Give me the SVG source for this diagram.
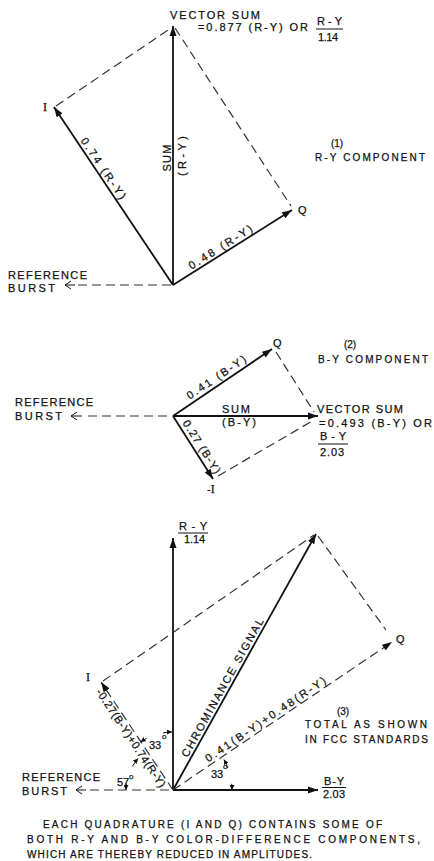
<svg xmlns="http://www.w3.org/2000/svg" width="434" height="861" viewBox="0 0 434 861">
<style>
text{font-family:"Liberation Sans",Arial,sans-serif;fill:#111;font-size:11px;stroke:#111;stroke-width:0.25}
.s{stroke:#111;stroke-width:1.8;fill:none}
.d{stroke:#333;stroke-width:1.2;fill:none;stroke-dasharray:9 5}
.a{marker-end:url(#ah)}
.t{stroke:#111;stroke-width:1;fill:none}
.k{stroke:#111;stroke-width:1;fill:none;marker-end:url(#sa)}
.sm{font-size:10px}
.rf{font-size:11px}
.sup{font-size:8px}
.ser{font-family:"Liberation Serif","Times New Roman",serif;font-size:12px}
</style>
<defs>
<marker id="ah" markerUnits="userSpaceOnUse" markerWidth="11" markerHeight="8" refX="10" refY="4" orient="auto"><path d="M0,0.5 L10,4 L0,7.5 z" fill="#111"/></marker>
<marker id="sa" markerUnits="userSpaceOnUse" markerWidth="6" markerHeight="5" refX="5" refY="2.5" orient="auto"><path d="M0,0 L5,2.5 L0,5 z" fill="#111"/></marker>
</defs>
<rect width="434" height="861" fill="#fff"/>

<g id="connectors">
<!-- diagram 1 -->
<line class="s a" x1="173" y1="285" x2="173" y2="26"/>
<line class="s a" x1="173" y1="285" x2="54" y2="107"/>
<line class="s a" x1="173" y1="285" x2="292" y2="210"/>
<path class="d" d="M56,106 L171,28"/>
<path class="d" d="M175,28 L291,206"/>
<path class="d" d="M78,285 H172"/>
<path class="t" d="M71,281 L65,285 L71,289 M65,285 H75"/>
<!-- diagram 2 -->
<line class="s a" x1="173" y1="416" x2="318" y2="416"/>
<line class="s a" x1="173" y1="416" x2="272" y2="349"/>
<line class="s a" x1="173" y1="416" x2="213" y2="479"/>
<path class="d" d="M276,352 L314,412"/>
<path class="d" d="M218,476 L314,420"/>
<path class="d" d="M88,416 H172"/>
<path class="t" d="M77,412 L71,416 L77,420 M71,416 H82"/>
<!-- diagram 3 -->
<line class="s a" x1="173" y1="790" x2="173" y2="538"/>
<line class="s a" x1="173" y1="790" x2="318" y2="790"/>
<line class="s a" x1="173" y1="790" x2="316" y2="534"/>
<line class="d a" x1="173" y1="790" x2="392" y2="642"/>
<line class="d a" x1="173" y1="790" x2="101" y2="682"/>
<path class="d" d="M103,681 L314,535"/>
<path class="d" d="M318,536 L386,630"/>
<path class="d" d="M90,790 H172"/>
<path class="t" d="M82,786 L76,790 L82,794 M76,790 H86"/>
<!-- angle arcs -->
<path class="k" d="M227.8,768 A59,59 0 0 0 223.9,759.6"/>
<path class="k" d="M231.7,783.8 A59,59 0 0 1 232,790"/>
<path class="k" d="M146.7,738.3 A58,58 0 0 0 140.6,741.9"/>
<path class="k" d="M162.9,732.9 A58,58 0 0 1 172,732"/>
<path class="k" d="M132.3,766.5 A47,47 0 0 1 138.1,758.6"/>
<path class="k" d="M126.5,783.5 A47,47 0 0 0 126,790"/>
</g>

<!-- diagram 1 nodes -->
<g id="d1-vector-sum">
<text x="170" y="19" textLength="90">VECTOR SUM</text>
<text x="198" y="31" textLength="110">=0.877 (R-Y) OR</text>
<text x="317" y="25" textLength="25">R-Y</text>
<line class="t" x1="316" y1="29" x2="343" y2="29"/>
<text x="318" y="41" textLength="20">1.14</text>
</g>
<g id="d1-I"><text class="ser" x="43" y="111">I</text></g>
<g id="d1-Q"><text x="298" y="214" font-size="12">Q</text></g>
<g id="d1-title"><text class="sm" x="337" y="147" text-anchor="middle">(1)</text><text class="sm" x="315" y="161" textLength="110">R-Y COMPONENT</text></g>
<g id="d1-ref"><text class="rf" x="8" y="279" textLength="79">REFERENCE</text><text class="rf" x="8" y="292" textLength="47">BURST</text></g>
<g id="d1-sum"><text transform="translate(171,158) rotate(-90)" text-anchor="middle" textLength="27">SUM</text><text transform="translate(186,156) rotate(-90)" text-anchor="middle" textLength="40">(R-Y)</text></g>
<g id="d1-i-label" transform="translate(97.8,172.2) rotate(56.1)"><text x="0" y="-3" text-anchor="middle" textLength="72">0.74 (R-Y)</text></g>
<g id="d1-q-label" transform="translate(224,252.9) rotate(-32.2)"><text x="0" y="-3" text-anchor="middle" textLength="73">0.48 (R-Y)</text></g>

<!-- diagram 2 nodes -->
<g id="d2-Q"><text x="273" y="347" font-size="12">Q</text></g>
<g id="d2-title"><text class="sm" x="350" y="348" text-anchor="middle">(2)</text><text class="sm" x="318" y="363" textLength="110">B-Y COMPONENT</text></g>
<g id="d2-sum"><text x="222" y="413" textLength="28">SUM</text><text x="222" y="426" textLength="34">(B-Y)</text></g>
<g id="d2-vector-sum">
<text x="317" y="413" textLength="86">VECTOR SUM</text>
<text x="319" y="427" textLength="113">=0.493 (B-Y) OR</text>
<text x="320" y="440" textLength="26">B-Y</text>
<line class="t" x1="318" y1="444" x2="348" y2="444"/>
<text x="320" y="456" textLength="24">2.03</text>
</g>
<g id="d2-minusI"><text x="207" y="493">-<tspan class="ser">I</tspan></text></g>
<g id="d2-ref"><text class="rf" x="15" y="406" textLength="78">REFERENCE</text><text class="rf" x="15" y="420" textLength="47">BURST</text></g>
<g id="d2-q-label" transform="translate(220.6,383.7) rotate(-34.1)"><text x="0" y="-4" text-anchor="middle" textLength="69">0.41 (B-Y)</text></g>
<g id="d2-i-label" transform="translate(195.2,450.9) rotate(57.6)"><text x="0" y="-4" text-anchor="middle" textLength="61">0.27 (B-Y)</text></g>

<!-- diagram 3 nodes -->
<g id="d3-ry">
<text x="179" y="530" textLength="28">R-Y</text>
<line class="t" x1="178" y1="533" x2="208" y2="533"/>
<text x="184" y="543" textLength="21">1.14</text>
</g>
<g id="d3-by">
<text x="324" y="785" textLength="20">B-Y</text>
<line class="t" x1="322" y1="787.5" x2="346" y2="787.5"/>
<text x="323" y="798" textLength="22">2.03</text>
</g>
<g id="d3-Q"><text x="396" y="643" font-size="12">Q</text></g>
<g id="d3-I"><text class="ser" x="86" y="681">I</text></g>
<g id="d3-title"><text class="sm" x="343" y="715" text-anchor="middle">(3)</text><text class="sm" x="305" y="728" textLength="122">TOTAL AS SHOWN</text><text class="sm" x="305" y="743" textLength="123">IN FCC STANDARDS</text></g>
<g id="d3-ref"><text class="rf" x="22" y="781" textLength="78">REFERENCE</text><text class="rf" x="22" y="795" textLength="45">BURST</text></g>
<g id="d3-chroma" transform="translate(228.3,691) rotate(-60.8)"><text x="0" y="-3" text-anchor="middle" textLength="157">CHROMINANCE SIGNAL</text></g>
<g id="d3-q-label" transform="translate(269.2,725) rotate(-34)"><text x="0" y="-3" text-anchor="middle" textLength="143">0.41(B-Y)+0.48(R-Y)</text></g>
<g id="d3-i-label" transform="translate(136.1,734.6) rotate(56.3)"><text x="0" y="10" text-anchor="middle" font-size="10" textLength="116">-0.27(B-Y)+0.74(R-Y)</text></g>
<g id="d3-angles">
<text x="117" y="786">57</text><text class="sup" x="129" y="779">o</text>
<text x="149" y="749">33</text><text class="sup" x="162" y="739">o</text>
<text x="211" y="778">33</text><text class="sup" x="223" y="769">o</text>
</g>

<g id="caption">
<text class="sm" x="43" y="828" textLength="339">EACH QUADRATURE (I AND Q) CONTAINS SOME OF</text>
<text class="sm" x="27" y="843" textLength="393">BOTH R-Y AND B-Y COLOR-DIFFERENCE COMPONENTS,</text>
<text class="sm" x="27" y="858" textLength="285">WHICH ARE THEREBY REDUCED IN AMPLITUDES.</text>
</g>
</svg>
